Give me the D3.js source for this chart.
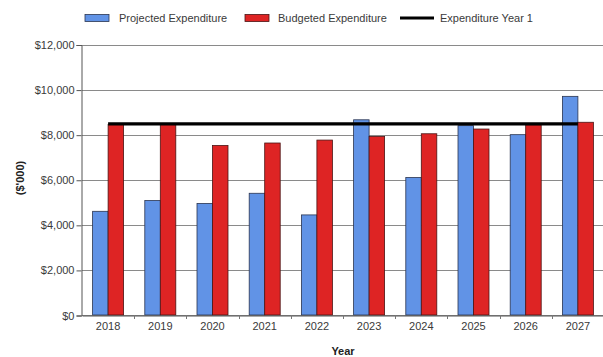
<!DOCTYPE html>
<html>
<head>
<meta charset="utf-8">
<script src="https://cdn.jsdelivr.net/npm/d3@7/dist/d3.min.js"></script>
<style>
  html, body { margin: 0; padding: 0; background: #fff; }
  svg { display: block; font-family: "Liberation Sans", Arial, sans-serif; }
</style>
</head>
<body>
<svg id="chart" width="603" height="357"></svg>
<script>
// Expenditure by year ($'000)
const years = ["2018", "2019", "2020", "2021", "2022", "2023", "2024", "2025", "2026", "2027"];
const projected = [4600, 5080, 4950, 5400, 4440, 8660, 6100, 8400, 8000, 9700];
const budgeted = [8450, 8450, 7520, 7630, 7760, 7920, 8040, 8250, 8440, 8550];
const yearOne = [8480, 8480, 8480, 8480, 8480, 8480, 8480, 8480, 8480, 8480];
const yTicks = [0, 2000, 4000, 6000, 8000, 10000, 12000];
const seriesNames = ["Projected Expenditure", "Budgeted Expenditure", "Expenditure Year 1"];

const colProjected = "#6193e6";
const colBudgeted = "#de2424";
const colLine = "#000";
const gridCol = "#8a8a8a";
const textCol = "#3a3a3a";

const svg = d3.select("#chart");
const plotLeft = 82, plotRight = 604, plotTop = 44.5, plotBottom = 315;

const x = d3.scaleBand().domain(years).range([plotLeft, plotRight]).paddingInner(0).paddingOuter(0);
const y = d3.scaleLinear().domain([0, 12000]).range([plotBottom, plotTop]);
const groupW = 31;
const sub = d3.scaleBand().domain(["p", "b"]).range([0, groupW]);

// gridlines
svg.append("g")
  .selectAll("line")
  .data(yTicks)
  .join("line")
  .attr("x1", plotLeft).attr("x2", 603)
  .attr("y1", d => Math.round(y(d)) + 0.5).attr("y2", d => Math.round(y(d)) + 0.5)
  .attr("stroke", gridCol).attr("stroke-width", 1);

// y axis
const yAxis = svg.append("g")
  .attr("transform", `translate(${plotLeft - 0.5},0.5)`)
  .call(d3.axisLeft(y).tickValues(yTicks).tickSize(5).tickPadding(2)
    .tickFormat(d => "$" + d3.format(",")(d)));
yAxis.select(".domain").attr("stroke", "#555");
yAxis.selectAll(".tick line").attr("stroke", "#555");
yAxis.selectAll("text").attr("fill", textCol).attr("font-size", 11)
  .attr("font-family", "'Liberation Sans', Arial, sans-serif");

// bars
const groups = svg.append("g")
  .selectAll("g")
  .data(years.map((yr, i) => ({ yr, p: projected[i], b: budgeted[i] })))
  .join("g")
  .attr("transform", d => `translate(${x(d.yr) + x.bandwidth() / 2 - groupW / 2},0)`);

groups.append("rect")
  .attr("x", sub("p")).attr("width", sub.bandwidth())
  .attr("y", d => y(d.p)).attr("height", d => y(0) - y(d.p))
  .attr("fill", colProjected).attr("stroke", "#2b3550").attr("stroke-width", 0.8);
groups.append("rect")
  .attr("x", sub("b")).attr("width", sub.bandwidth())
  .attr("y", d => y(d.b)).attr("height", d => y(0) - y(d.b))
  .attr("fill", colBudgeted).attr("stroke", "#4a1515").attr("stroke-width", 0.8);

// x axis
const xAxis = svg.append("g")
  .attr("transform", `translate(0,${plotBottom + 0.5})`)
  .call(d3.axisBottom(x).tickSize(0).tickPadding(7));
xAxis.select(".domain").attr("stroke", "#555");
xAxis.selectAll("text").attr("fill", textCol).attr("font-size", 11)
  .attr("font-family", "'Liberation Sans', Arial, sans-serif");
// small ticks between categories
svg.append("g").selectAll("line")
  .data(years.slice(1))
  .join("line")
  .attr("x1", d => Math.round(x(d)) + 0.5).attr("x2", d => Math.round(x(d)) + 0.5)
  .attr("y1", plotBottom).attr("y2", plotBottom + 4)
  .attr("stroke", "#777");

// year-one expenditure line
svg.append("path")
  .datum(years.map((yr, i) => [x(yr) + x.bandwidth() / 2, y(yearOne[i])]))
  .attr("d", d3.line())
  .attr("fill", "none").attr("stroke", colLine).attr("stroke-width", 3.2);

// axis titles
svg.append("text")
  .attr("x", x("2022") + x.bandwidth()).attr("y", 355)
  .attr("text-anchor", "middle").attr("font-size", 11).attr("font-weight", "bold")
  .attr("fill", "#222").text("Year");
svg.append("text")
  .attr("transform", "translate(24,178) rotate(-90)")
  .attr("text-anchor", "middle").attr("font-size", 11).attr("font-weight", "bold")
  .attr("fill", "#222").text("($'000)");

// legend
const legend = svg.append("g").attr("font-size", 11).attr("fill", textCol);
const lg = [
  { x: 85, type: "rect", color: colProjected, stroke: "#2b3550", tx: 119 },
  { x: 245, type: "rect", color: colBudgeted, stroke: "#4a1515", tx: 278 },
  { x: 400, type: "line", color: colLine, tx: 440 }
];
lg.forEach((d, i) => {
  if (d.type === "rect") {
    legend.append("rect").attr("x", d.x).attr("y", 14.5).attr("width", 24).attr("height", 7)
      .attr("fill", d.color).attr("stroke", d.stroke).attr("stroke-width", 0.8);
  } else {
    legend.append("line").attr("x1", d.x).attr("x2", d.x + 34).attr("y1", 18).attr("y2", 18)
      .attr("stroke", d.color).attr("stroke-width", 3.2);
  }
  legend.append("text").attr("x", d.tx).attr("y", 22).attr("fill", textCol).text(seriesNames[i]);
});
</script>
</body>
</html>
